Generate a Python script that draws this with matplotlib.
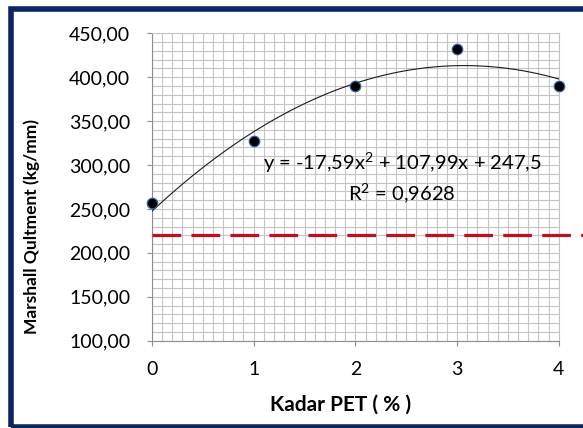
import numpy as np
import matplotlib
matplotlib.use('Agg')
import matplotlib.pyplot as plt
from matplotlib.patches import Rectangle
from matplotlib.ticker import MultipleLocator, FuncFormatter

plt.rcParams['font.family'] = ['Lato', 'DejaVu Sans']
plt.rcParams['mathtext.fontset'] = 'custom'
plt.rcParams['mathtext.rm'] = 'Lato'
plt.rcParams['mathtext.it'] = 'Lato:italic'

# data
kadar_pet = [0, 1, 2, 3, 4]
marshall = [256.6, 327.0, 389.6, 432.6, 390.4]
# trendline coefficients shown on the chart (a, b, c)
trend_coef = [-17.59, 107.99, 247.5]
r_squared = 0.9628
batas = 220.0  # red dashed reference line

fig = plt.figure(figsize=(5.83, 4.28), dpi=100)
ax = fig.add_axes([0.2607, 0.204, 0.6976, 0.7182])

# grid
ax.xaxis.set_major_locator(MultipleLocator(1))
ax.xaxis.set_minor_locator(MultipleLocator(0.1))
ax.yaxis.set_major_locator(MultipleLocator(50))
ax.yaxis.set_minor_locator(MultipleLocator(10))
ax.grid(True, which='both', color='#c4c4c4', linewidth=0.8)
ax.set_axisbelow(True)

# trendline
xs = np.linspace(kadar_pet[0], kadar_pet[-1], 200)
ax.plot(xs, np.polyval(trend_coef, xs), color='#1a1a1a', linewidth=0.8, zorder=3)

# points
ax.plot(kadar_pet, marshall, linestyle='none', marker='o', markersize=7.5,
        markerfacecolor='black', markeredgecolor='#2f5f9f', markeredgewidth=0.9,
        clip_on=False, zorder=4)

# reference line running out to the right edge
ax.plot([0, 4.4], [batas, batas], color='#c0101e', linewidth=2.3,
        dashes=(9, 3.2), clip_on=False, zorder=3)

ax.set_xlim(0, 4)
ax.set_ylim(100, 450)

ax.yaxis.set_major_formatter(FuncFormatter(lambda v, p: f'{v:.2f}'.replace('.', ',')))
ax.tick_params(which='major', direction='out', length=3.6, color='#8c8c8c',
               labelsize=14, labelcolor='black')
ax.tick_params(axis='y', pad=12)
ax.tick_params(axis='x', pad=11)
ax.tick_params(which='minor', length=0)
for s in ax.spines.values():
    s.set_color('#c4c4c4')
ax.spines['left'].set_color('#8c8c8c')
ax.spines['bottom'].set_color('#8c8c8c')

eq = 'y = -17,59x$^2$ + 107,99x + 247,5'
ax.text(402 / 583, 1 - 163 / 428, eq, transform=fig.transFigure,
        ha='center', va='center', fontsize=14.5)
ax.text(402 / 583, 1 - 193 / 428, 'R$^2$ = ' + f'{r_squared:.4f}'.replace('.', ','),
        transform=fig.transFigure, ha='center', va='center', fontsize=14.5)

fig.text(341 / 583, 1 - 405 / 428, 'Kadar PET ( % )', ha='center', va='center',
         fontsize=15, fontweight='bold')
fig.text(32 / 583, 1 - 226 / 428, 'Marshall Qultment (kg/mm)', ha='center',
         va='center', rotation=90, fontsize=12.5, fontweight='bold')

# dark frame around the figure (right side runs off the image)
fig.patches.append(Rectangle((10.5 / 583, 1 - 426.5 / 428), 1.2, 418 / 428,
                             transform=fig.transFigure, fill=False,
                             edgecolor='#0b2560', linewidth=4, zorder=0))

fig.savefig('out.png', dpi=100)
